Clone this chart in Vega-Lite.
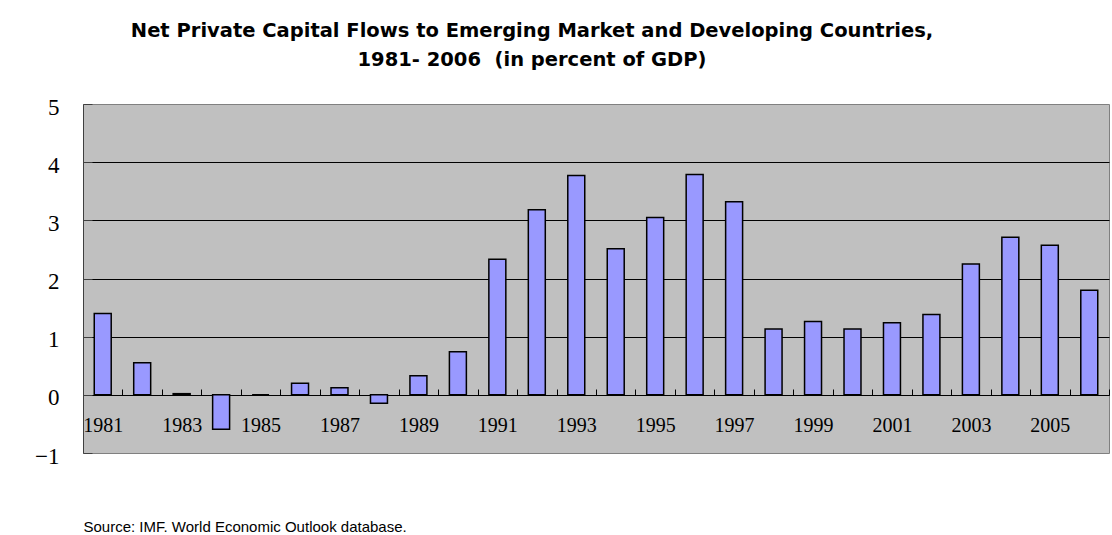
{
  "$schema": "https://vega.github.io/schema/vega-lite/v6.json",
  "autosize": "none",
  "padding": {"left": 83, "top": 104, "right": 3, "bottom": 82},
  "width": 1026,
  "height": 349,
  "background": "white",
  "config": {
    "view": {"fill": "#C0C0C0", "stroke": "#808080", "strokeWidth": 1}
  },
  "title": {
    "text": ["Net Private Capital Flows to Emerging Market and Developing Countries,", "1981- 2006\u00a0\u00a0(in percent of GDP)"],
    "font": "DejaVu Sans",
    "fontSize": 19.5,
    "fontWeight": "bold",
    "color": "black",
    "anchor": "middle",
    "frame": "group",
    "dx": -64,
    "lineHeight": 29,
    "offset": 26
  },
  "data": {
    "values": [
      {"year": "1981", "value": 1.40},
      {"year": "1982", "value": 0.55},
      {"year": "1983", "value": 0.02},
      {"year": "1984", "value": -0.59},
      {"year": "1985", "value": 0.0},
      {"year": "1986", "value": 0.20},
      {"year": "1987", "value": 0.12},
      {"year": "1988", "value": -0.145},
      {"year": "1989", "value": 0.33},
      {"year": "1990", "value": 0.74},
      {"year": "1991", "value": 2.33},
      {"year": "1992", "value": 3.18},
      {"year": "1993", "value": 3.77},
      {"year": "1994", "value": 2.51},
      {"year": "1995", "value": 3.05},
      {"year": "1996", "value": 3.79},
      {"year": "1997", "value": 3.32},
      {"year": "1998", "value": 1.13},
      {"year": "1999", "value": 1.26},
      {"year": "2000", "value": 1.13},
      {"year": "2001", "value": 1.24},
      {"year": "2002", "value": 1.38},
      {"year": "2003", "value": 2.25},
      {"year": "2004", "value": 2.71},
      {"year": "2005", "value": 2.57},
      {"year": "2006", "value": 1.80}
    ]
  },
  "mark": {
    "type": "bar",
    "fill": "#9999FF",
    "stroke": "black",
    "strokeWidth": 1.5,
    "width": {"band": 0.43}
  },
  "encoding": {
    "x": {
      "field": "year",
      "type": "ordinal",
      "scale": {"paddingInner": 0, "paddingOuter": 0},
      "axis": {
        "offset": -58,
        "domainColor": "black",
        "domainWidth": 1,
        "tickBand": "extent",
        "tickSize": -6,
        "tickColor": "black",
        "tickWidth": 1,
        "labelAngle": 0,
        "labelFont": "Liberation Serif",
        "labelFontSize": 20,
        "labelColor": "black",
        "labelPadding": 26,
        "labelExpr": "(+datum.value) % 2 === 1 ? datum.label : ''",
        "title": "Source: IMF. World Economic Outlook database.",
        "titleFont": "Liberation Sans",
        "titleFontSize": 15,
        "titleFontWeight": "normal",
        "titleColor": "black",
        "titleAlign": "left",
        "titleAnchor": "start",
        "titleBaseline": "alphabetic",
        "titleX": 0,
        "titleY": 136
      }
    },
    "y": {
      "field": "value",
      "type": "quantitative",
      "scale": {"domain": [-1, 5], "nice": false, "zero": false},
      "axis": {
        "values": [-1, 0, 1, 2, 3, 4, 5],
        "title": null,
        "domainColor": "#404040",
        "domainWidth": 1,
        "tickSize": -9,
        "tickColor": "#404040",
        "grid": true,
        "gridColor": {"condition": {"test": "datum.value === 5 || datum.value === -1", "value": "transparent"}, "value": "black"},
        "gridWidth": 1,
        "gridOpacity": 1,
        "labelFont": "Liberation Serif",
        "labelFontSize": 23,
        "labelColor": "black",
        "labelPadding": 33,
        "labelOffset": 3
      }
    }
  }
}
